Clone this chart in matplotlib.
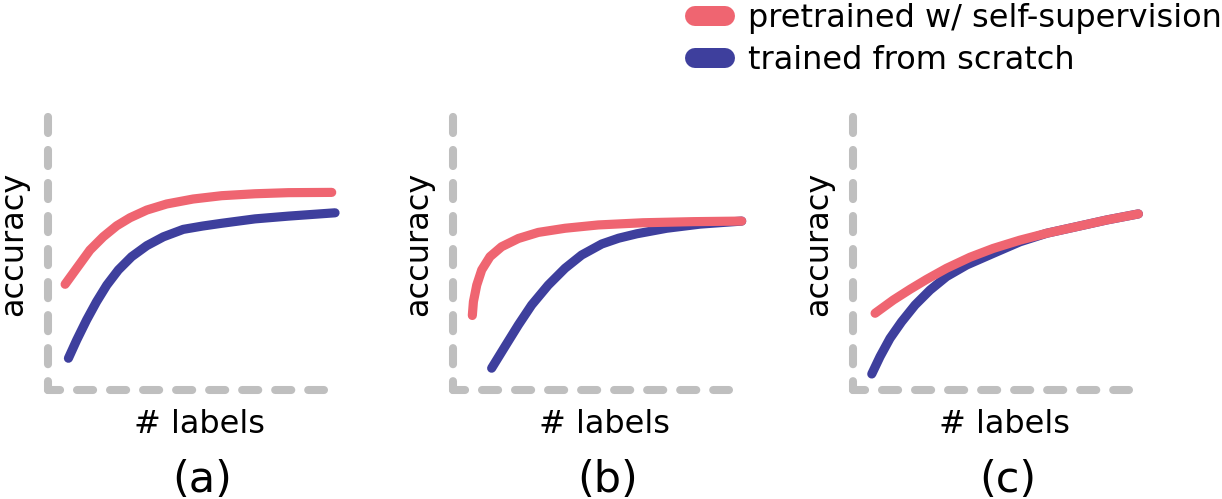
import matplotlib
matplotlib.use("Agg")
import matplotlib.pyplot as plt

# values (x: # labels, y: accuracy, both arbitrary 0-100)
a_pre_x = [6.2, 10.4, 15.2, 20.0, 24.9, 29.7, 35.8, 43.0, 52.6, 62.9, 75.0, 87.1, 102.8]
a_pre_y = [38.3, 44.1, 50.7, 55.5, 59.5, 62.4, 65.2, 67.4, 69.2, 70.4, 71.1, 71.5, 71.6]
a_scr_x = [7.4, 10.4, 14.0, 17.6, 21.3, 25.5, 30.3, 35.8, 41.8, 49.0, 56.0, 62.9, 75.0, 87.1, 104.0]
a_scr_y = [11.5, 18.1, 25.4, 32.0, 38.0, 43.5, 48.3, 52.3, 55.5, 58.2, 59.4, 60.4, 62.0, 63.0, 64.2]

b_pre_x = [7.0, 7.4, 8.6, 10.4, 13.4, 17.6, 23.7, 30.9, 40.6, 52.6, 68.9, 87.1, 104.6]
b_pre_y = [27.0, 32.0, 38.0, 43.5, 48.3, 51.9, 54.9, 57.1, 58.6, 59.8, 60.6, 61.0, 61.2]
b_scr_x = [14.0, 18.8, 23.7, 28.5, 34.5, 40.6, 46.6, 53.9, 60.0, 66.6, 77.4, 89.5, 104.6]
b_scr_y = [7.9, 15.7, 23.6, 30.8, 38.0, 44.1, 48.9, 52.9, 55.0, 56.6, 58.6, 60.1, 61.2]

c_pre_x = [8.0, 14.6, 20.7, 26.7, 33.9, 42.4, 50.8, 60.5, 70.2, 81.1, 91.9, 103.4]
c_pre_y = [27.8, 32.6, 36.5, 40.1, 44.1, 48.1, 51.3, 54.3, 56.8, 59.2, 61.6, 63.8]
c_scr_x = [6.8, 9.8, 13.4, 17.6, 22.5, 27.9, 33.9, 41.2, 50.8, 60.5, 70.2, 81.1, 91.9, 103.4]
c_scr_y = [5.8, 12.1, 18.7, 24.7, 30.8, 36.2, 41.1, 45.3, 49.5, 53.7, 56.8, 59.2, 61.6, 63.8]

panel_names = ["(a)", "(b)", "(c)"]
series_labels = ["pretrained w/ self-supervision", "trained from scratch"]

PINK = "#ef6571"
BLUE = "#3e3f9d"
GREY = "#bfbfbf"

W, H = 1222, 499
fig = plt.figure(figsize=(W / 100, H / 100), dpi=100)

panels = [
    (48, a_pre_x, a_pre_y, a_scr_x, a_scr_y),
    (453, b_pre_x, b_pre_y, b_scr_x, b_scr_y),
    (853, c_pre_x, c_pre_y, c_scr_x, c_scr_y),
]

lines = None
for i, (left, px, py, sx, sy) in enumerate(panels):
    ax = fig.add_axes([left / W, 109 / H, 276 / W, 276 / H])
    ax.set_xlim(0, 100)
    ax.set_ylim(0, 100)
    ax.set_xticks([])
    ax.set_yticks([])
    for s in ["top", "right"]:
        ax.spines[s].set_visible(False)
    # dashed grey axes with round caps
    for s, off in [("left", 0.9), ("bottom", 0.5)]:
        sp = ax.spines[s]
        sp.set_color(GREY)
        sp.set_linewidth(5.8)
        sp.set_linestyle((off, (2.0, 2.1)))
        sp.set_capstyle("round")

    l2, = ax.plot(sx, sy, color=BLUE, lw=6.6, solid_capstyle="round",
                  solid_joinstyle="round", clip_on=False)
    l1, = ax.plot(px, py, color=PINK, lw=6.6, solid_capstyle="round",
                  solid_joinstyle="round", clip_on=False)
    if lines is None:
        lines = [l1, l2]

    ax.set_ylabel("accuracy", fontsize=23)
    ax.yaxis.set_label_coords(-0.068, 0.53)
    ax.text(0.55, -0.156, "# labels", transform=ax.transAxes, fontsize=23,
            ha="center", va="baseline")
    ax.text(0.56, -0.37, panel_names[i], transform=ax.transAxes, fontsize=31,
            ha="center", va="baseline")

leg = fig.legend(lines, series_labels, loc="upper left",
                 bbox_to_anchor=(695 / W, 0.993), frameon=False, fontsize=23,
                 handlelength=0.94, handletextpad=0.72, labelspacing=0.32,
                 borderpad=0, borderaxespad=0)
for h in leg.legend_handles:
    h.set_linewidth(14.4)
    h.set_solid_capstyle("round")

fig.savefig("out.png", dpi=100)
